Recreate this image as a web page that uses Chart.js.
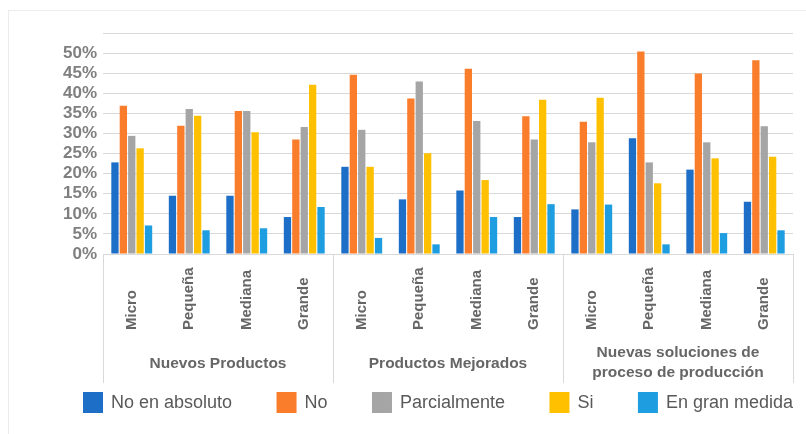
<!DOCTYPE html>
<html>
<head>
<meta charset="utf-8">
<script src="https://cdn.jsdelivr.net/npm/chart.js@4.4.1/dist/chart.umd.min.js"></script>
<style>
  html, body { margin: 0; padding: 0; background: #fff; }
  #wrap { position: relative; width: 806px; height: 434px; }
  #frame { position: absolute; left: 8px; top: 10px; right: 0; bottom: 0;
           border-top: 1px solid #ececec; border-left: 1px solid #ececec; }
  canvas { position: absolute; left: 0; top: 0; }
</style>
</head>
<body>
<div id="wrap">
  <div id="frame"></div>
  <canvas id="chart" width="806" height="434"></canvas>
</div>
<script>
// Company sizes, repeated inside each innovation group
const sizes = ['Micro', 'Pequeña', 'Mediana', 'Grande'];
const groups = [['Nuevos Productos'], ['Productos Mejorados'], ['Nuevas soluciones de', 'proceso de producción']];
const categories = groups.flatMap(() => sizes);

// Values in %
const noEnAbsoluto = [22.8, 14.5, 14.5, 9.2, 21.7, 13.6, 15.8, 9.2, 11.1, 28.8, 21.0, 13.0];
const no = [36.9, 31.9, 35.6, 28.5, 44.6, 38.7, 46.1, 34.3, 32.9, 50.4, 44.9, 48.2];
const parcialmente = [29.4, 36.1, 35.6, 31.6, 30.9, 42.9, 33.1, 28.5, 27.8, 22.8, 27.8, 31.8];
const si = [26.3, 34.4, 30.3, 42.1, 21.7, 25.1, 18.4, 38.4, 38.9, 17.6, 23.8, 24.2];
const enGranMedida = [7.1, 5.9, 6.4, 11.7, 4.0, 2.4, 9.2, 12.4, 12.3, 2.4, 5.2, 5.9];

const seriesNames = ['No en absoluto', 'No', 'Parcialmente', 'Si', 'En gran medida'];
const seriesData = [noEnAbsoluto, no, parcialmente, si, enGranMedida];
const seriesColors = ['#1c6ec6', '#f97d2b', '#a5a5a5', '#ffc000', '#1e9de0'];

const yMax = 55;   // top frame line, no label
const yStep = 5;

const gridColor = '#d9d9d9';
const textGray = '#666666';

// Rotated size labels, group titles and the legend
const axisText = {
  id: 'axisText',
  afterDraw(chart) {
    const { ctx, scales: { x } } = chart;
    ctx.save();
    ctx.fillStyle = textGray;

    // size labels, read bottom to top, starting at the same line
    ctx.font = 'bold 15px "Liberation Sans", Arial, sans-serif';
    ctx.textAlign = 'left';
    ctx.textBaseline = 'middle';
    categories.forEach((label, i) => {
      ctx.save();
      ctx.translate(x.getPixelForValue(i), 330);
      ctx.rotate(-Math.PI / 2);
      ctx.fillText(label, 0, 0);
      ctx.restore();
    });

    // group titles
    ctx.font = 'bold 15.5px "Liberation Sans", Arial, sans-serif';
    ctx.textAlign = 'center';
    groups.forEach((lines, g) => {
      const left = x.getPixelForValue(g * 4);
      const right = x.getPixelForValue(g * 4 + 3);
      const cx = (left + right) / 2;
      const y0 = lines.length === 1 ? 364 : 353;
      lines.forEach((line, k) => ctx.fillText(line, cx, y0 + k * 20));
    });

    // legend
    ctx.font = '18px "Liberation Sans", Arial, sans-serif';
    ctx.textAlign = 'left';
    const box = 20, gapText = 8;
    const widths = seriesNames.map(n => box + gapText + ctx.measureText(n).width);
    const startX = 83, endX = 793;
    const gap = (endX - startX - widths.reduce((a, b) => a + b, 0)) / (seriesNames.length - 1);
    let cx = startX;
    seriesNames.forEach((name, i) => {
      ctx.fillStyle = seriesColors[i];
      ctx.fillRect(cx, 392, box, 21);
      ctx.fillStyle = '#595959';
      ctx.fillText(name, cx + box + gapText, 403);
      cx += widths[i] + gap;
    });
    ctx.restore();
  }
};

new Chart(document.getElementById('chart'), {
  type: 'bar',
  data: {
    labels: categories,
    datasets: seriesNames.map((name, i) => ({
      label: name,
      data: seriesData[i],
      backgroundColor: seriesColors[i],
      categoryPercentage: 0.73,
      barPercentage: 0.87
    }))
  },
  options: {
    responsive: false,
    animation: false,
    layout: { padding: { left: 0, right: 13, top: 33, bottom: 0 } },
    plugins: {
      legend: { display: false },
      tooltip: { enabled: false }
    },
    scales: {
      x: {
        ticks: { display: false },
        border: { display: true, color: gridColor },
        grid: {
          drawOnChartArea: false,
          drawTicks: true,
          tickLength: 129,
          // only the group separators
          color: c => (c.index === undefined || c.index % 4 === 0) ? gridColor : 'rgba(0,0,0,0)'
        },
        afterFit: s => { s.height = 180; }
      },
      y: {
        min: 0,
        max: yMax,
        ticks: {
          stepSize: yStep,
          autoSkip: false,
          padding: 6,
          color: '#7f7f7f',
          font: { family: '"Liberation Sans", Arial, sans-serif', size: 17, weight: 'bold' },
          callback: v => v === yMax ? '' : v + '%'
        },
        border: { display: false },
        grid: { color: gridColor, drawTicks: false },
        afterFit: s => { s.width = 103; }
      }
    }
  },
  plugins: [axisText]
});
</script>
</body>
</html>
